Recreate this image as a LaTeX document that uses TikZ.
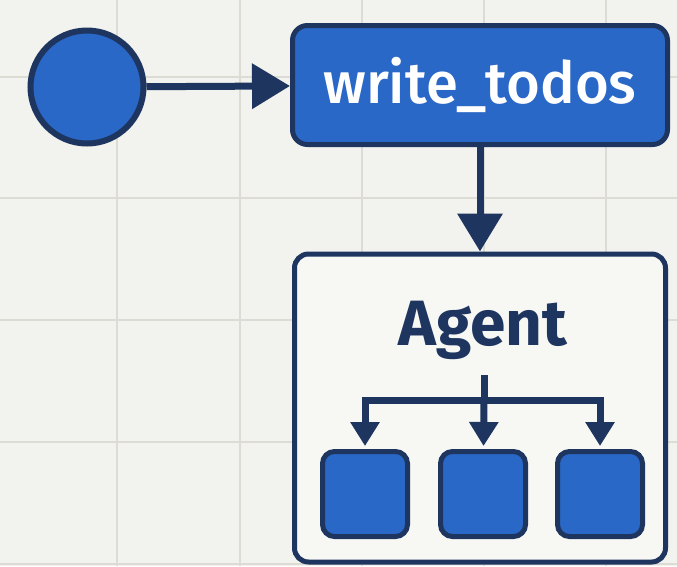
\documentclass[tikz,border=0pt]{standalone}
\usepackage{fontspec}
\setmainfont{Fira Sans}
\newfontfamily\medfont{Fira Sans Medium}
\usetikzlibrary{arrows.meta}

\definecolor{navy}{HTML}{1E3560}
\definecolor{boxblue}{HTML}{2A68C8}
\definecolor{paper}{HTML}{F2F2EE}
\definecolor{gridgray}{HTML}{DCDCD5}
\definecolor{panel}{HTML}{F7F7F4}

\begin{document}
\begin{tikzpicture}
    [x=1pt, y=-1pt
    ,every node/.style={inner sep=0pt}
    ,>={Triangle[length=38pt,width=44pt]}
    ,bluebox/.style={draw=navy, fill=boxblue, line width=5pt}
    ,link/.style={->, draw=navy, line width=7pt}
    ,branch/.style={-{Triangle[length=24pt,width=28pt]}, draw=navy, line width=7pt, shorten >=3pt}
    ]

    % paper and grid
    \fill[paper] (0,0) rectangle (677,566);
    \useasboundingbox (0,0) rectangle (677,566);
    \foreach \x in {117,240,362,484,606}
        \draw[gridgray, line width=2pt] (\x,0) -- (\x,566);
    \foreach \y in {77,198,320,442,564}
        \draw[gridgray, line width=2pt] (0,\y) -- (677,\y);

    \node[bluebox, circle, line width=6pt, minimum size=113pt] (start) at (87,87) {};
    \node[bluebox, rounded corners=15pt, minimum width=375pt, minimum height=119pt,
          text=white, font=\fontsize{58}{60}\medfont,
          text height=42pt, text depth=6pt] (todos) at (480,85) {write\_todos};

    \node[draw=navy, fill=panel, line width=5pt, rounded corners=14pt,
          minimum width=371pt, minimum height=308pt] (agent) at (480,408) {};
    \node[anchor=base, text=navy, font=\fontsize{64}{66}\selectfont\bfseries]
          (agentlabel) at (483,345) {Agent};

    \node[bluebox, rounded corners=12pt, minimum size=85pt] (s1) at (365,494) {};
    \node[bluebox, rounded corners=12pt, minimum size=85pt] (s2) at (483,494) {};
    \node[bluebox, rounded corners=12pt, minimum size=85pt] (s3) at (600,494) {};

    \coordinate (fork) at (484,375);
    \coordinate (split) at (484,400);

    \draw [link] (start) -- (todos);
    \draw [link] (todos) -- (agent);

    \draw [navy, line width=7pt] (fork) -- (split);
    \draw [branch] (split) -| (s1);
    \draw [branch] (split) -- (s2);
    \draw [branch] (split) -| (s3);

\end{tikzpicture}
\end{document}
